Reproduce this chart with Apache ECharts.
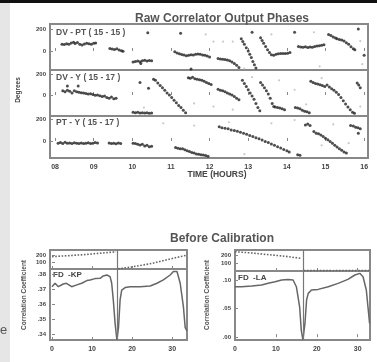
<!DOCTYPE html>
<html>
<head>
<meta charset="utf-8">
<script src="https://cdn.jsdelivr.net/npm/echarts@6/dist/echarts.min.js"></script>
<style>
  html, body { margin: 0; padding: 0; background: #fff; }
  #main { width: 377px; height: 362px; }
</style>
</head>
<body>
<div id="main"></div>
<script>
    // hours on the top plots
    var hourTicks = [8, 9, 10, 11, 12, 13, 14, 15, 16];
    var degTicks = [0, 200];

    // DV - PT (15-15): [time, degrees]
    var phaseDvPt = [
        [8.18,62],[8.24,58],[8.3,66],[8.36,60],[8.42,72],[8.48,80],[8.52,68],[8.58,78],[8.64,62],[8.7,55],
        [8.76,64],[8.82,70],[8.88,66],[8.94,62],[9.0,70],[9.05,72],
        [9.42,22],[9.48,18],[9.54,14],[9.6,20],[9.66,8],[9.72,2],[9.76,-2],
        [10.02,-100],[10.08,-95],[10.14,-92],[10.2,-98],[10.22,-115],[10.26,-88],[10.32,-85],[10.38,-92],[10.44,-86],[10.5,-90],
        [10.4,165],
        [11.1,-8],[11.16,-18],[11.22,-26],[11.28,-32],[11.34,-36],[11.4,-44],[11.46,-40],[11.52,-34],[11.58,-36],[11.64,-30],
        [11.7,-28],[11.76,-30],[11.82,-36],[11.88,-40],[11.94,-46],[12.0,-55],
        [12.22,-68],[12.28,-72],[12.34,-76],[12.4,-78],[12.46,-82],[12.52,-90],[12.58,-100],[12.64,-115],[12.7,-130],[12.76,-150],
        [12.82,110],[12.86,85],[12.9,60],[12.95,30],[13.0,0],[13.04,-30],[13.08,-60],[13.12,-95],[13.16,-125],[13.2,-155],
        [13.32,120],[13.36,95],[13.4,70],[13.45,40],[13.5,10],[13.55,-15],[13.6,-35],[13.66,-40],
        [13.72,-30],[13.78,-26],[13.84,-24],[13.9,-22],[13.96,-22],[14.02,-20],[14.08,-15],
        [14.3,40],[14.36,36],[14.42,34],[14.48,38],[14.54,32],[14.6,36],[14.66,34],[14.72,40],[14.78,44],[14.84,48],[14.9,52],[14.96,56],
        [15.08,150],[15.14,140],[15.2,128],[15.26,118],[15.3,112],[15.36,105],[15.42,100],[15.48,90],[15.54,75],[15.6,60],
        [15.66,38],[15.72,20],[15.76,10],
        [11.25,160],[11.52,-165],[13.1,170],[14.2,170],[15.85,200],[16.0,-40]
    ];
    var noiseDvPt = [[12.1,85],[12.35,85],[12.6,85],[13.6,150],[14.7,170],[14.85,-140],[15.9,90],[15.95,-120],[11.9,150],[12.9,-160]];

    // DV - Y (15-17)
    var phaseDvY = [
        [8.2,40],[8.26,30],[8.32,45],[8.38,35],[8.44,20],[8.5,40],[8.56,30],[8.62,25],[8.68,22],[8.74,18],[8.8,15],[8.86,10],
        [8.92,12],[8.98,5],[9.04,-2],[9.1,0],[9.16,-8],[9.22,-15],[9.28,-10],[9.34,-25],[9.4,-30],[9.46,-20],[9.52,-35],[9.58,-30],
        [8.32,85],[8.6,85],
        [10.02,-165],[10.08,-170],[10.14,-165],[10.2,-172],[10.26,-168],[10.32,-172],[10.38,-170],[10.44,-175],[10.5,-172],
        [10.2,120],[10.42,65],[10.55,150],
        [10.6,140],[10.66,115],[10.72,90],[10.78,70],[10.84,45],[10.9,20],[10.96,0],[11.02,-25],[11.08,-50],[11.14,-75],
        [11.2,-100],[11.26,-120],[11.32,-145],[11.38,-170],
        [11.45,165],[11.5,160],[11.56,168],[11.62,155],[11.68,150],[11.74,145],[11.8,140],[11.86,130],[11.92,120],[11.98,110],[12.04,100],
        [12.22,55],[12.28,45],[12.34,40],[12.4,30],[12.46,20],[12.52,10],[12.58,0],[12.64,-15],[12.7,-30],[12.76,-45],
        [12.85,140],[12.9,110],[12.95,80],[13.0,50],[13.05,20],[13.1,-10],[13.15,-40],[13.2,-80],[13.25,-120],[13.3,-150],
        [13.32,120],[13.37,95],[13.42,70],[13.47,40],[13.52,10],[13.57,-30],[13.62,-80],[13.66,-110],
        [13.7,-115],[13.76,-120],[13.82,-125],[13.88,-130],[13.94,-140],
        [14.22,-120],[14.28,-125],[14.34,-130],[14.4,-145],[14.46,-155],[14.52,-160],[14.58,-170],
        [14.62,130],[14.68,120],[14.74,110],[14.8,105],[14.86,98],[14.92,90],[14.98,80],[15.04,95],[15.1,75],[15.16,60],
        [15.22,45],[15.28,25],[15.34,5],[15.4,-25],[15.46,-55],[15.52,-85],[15.58,-115],[15.64,-140],[15.7,-165],[15.75,-175],
        [15.82,115],[15.86,95],[15.9,70]
    ];
    var noiseDvY = [[12.6,-140],[13.1,170],[13.8,140],[14.2,50],[14.5,-90],[15.9,-110],[12.1,-110],[11.6,-80],[14.9,160],[10.3,-120]];

    // PT - Y (15-17)
    var phasePtY = [
        [8.08,-20],[8.14,-15],[8.2,-22],[8.26,-12],[8.32,-20],[8.38,-18],[8.44,-22],[8.5,-16],[8.56,-20],[8.62,-24],[8.68,-18],
        [8.74,-22],[8.8,-20],[8.86,-16],[8.92,-22],[8.98,-20],[9.04,-14],[9.1,-18],
        [9.4,-18],[9.46,-24],[9.52,-20],[9.58,-26],[9.64,-18],[9.7,-24],
        [10.02,-20],[10.08,-22],[10.14,-30],[10.2,-36],[10.26,-30],[10.32,-45],[10.38,-40],[10.44,-52],[10.5,-48],
        [11.12,-60],[11.18,-66],[11.24,-72],[11.3,-70],[11.36,-80],[11.42,-90],[11.48,-96],[11.54,-104],[11.6,-110],
        [11.66,-118],[11.72,-120],[11.78,-125],[11.84,-128],[11.9,-132],[11.96,-140],
        [12.25,130],[12.32,120],[12.4,115],[12.48,110],[12.56,100],[12.64,95],[12.72,88],[12.8,80],[12.88,70],[12.96,62],
        [13.04,50],[13.12,40],[13.2,30],[13.28,20],[13.36,8],[13.44,-5],[13.52,-15],[13.6,-28],[13.68,-40],[13.76,-52],
        [13.84,-65],[13.92,-78],[14.0,-90],[14.06,-100],
        [14.28,-125],[14.34,-130],
        [14.48,145],[14.54,155],[14.6,140],
        [14.7,85],[14.76,70],[14.82,65],[14.88,55],[14.94,40],[15.0,25],[15.06,10],[15.12,-5],[15.18,-20],[15.24,-40],
        [15.3,-55],[15.36,-70],[15.42,-85],[15.48,-100],[15.54,-110],
        [15.65,140],[15.72,135],[15.78,125],[15.84,120],[15.9,110],[15.85,70]
    ];
    var noisePtY = [[12.5,170],[11.6,140],[14.2,190],[13.6,160],[15.2,150],[12.9,-120],[10.8,160],[14.9,-40],[15.6,-20]];

    // Before Calibration, FD - KP
    var kpPhaseA = [[0,176],[4,190],[8,205],[12,225],[16,245]];
    var kpPhaseB = [[16.5,2],[20,30],[25,80],[30,150],[33.5,195]];
    var kpCorr = [
        [0,.3715],[0.75,.3738],[1.6,.3715],[2.8,.3733],[3.6,.3738],[4.9,.3715],[6.2,.3727],[7.4,.3738],[8.7,.3756],
        [9.5,.376],[10.75,.3769],[12,.3771],[12.8,.3787],[13.7,.3793],[14.5,.3782],[14.9,.3738],[15.3,.3627],
        [15.75,.3471],[16.2,.336],[16.6,.3442],[17,.3627],[17.4,.3693],[18.25,.3709],[19.5,.3715],[22,.3715],
        [24.5,.372],[26.2,.3738],[27.8,.376],[29.5,.3793],[30.3,.3816],[31.2,.3816],[32,.3738],[32.8,.3582],
        [33.25,.3442],[33.7,.342]
    ];
    var kpTicks = [.34, .35, .36, .37, .38];

    // Before Calibration, FD - LA
    var laPhaseA = [[0,241],[4,225],[8,205],[12,185],[16,159]];
    var laPhaseB = [[16.8,5],[20,5],[24,4],[28,5],[33,5]];
    var laCorr = [
        [0,.0883],[1.6,.0883],[4.1,.0895],[6.5,.0912],[8.1,.0942],[9.8,.097],[11.4,.10],[13,.101],[14.2,.10],
        [15,.0883],[15.8,.0532],[16.2,.0123],[16.6,-.005],[17.1,.024],[17.5,.065],[17.9,.0766],[18.7,.0825],
        [20.3,.0836],[22.8,.0883],[25.2,.0942],[27.6,.1012],[29.3,.1088],[30.5,.1117],[31.3,.1058],[32.1,.0825],
        [32.5,.0532],[32.9,.024]
    ];
    var laTicks = [0, .05, .10];
    var sampleTicks = [0, 10, 20, 30];
    var phaseTicks = [100, 200];

    var chart = echarts.init(document.getElementById('main'));
    var frame = '#888';
    var font = 'Liberation Sans';

    function grid(l, t, w, h) {
        return { left: l, top: t, width: w, height: h, show: true, borderColor: frame, borderWidth: 2, containLabel: false };
    }
    function xAx(i, min, max, ticks, show, fmt) {
        return {
            type: 'value', gridIndex: i, min: min, max: max,
            axisLine: { show: false }, splitLine: { show: false },
            axisTick: { inside: true, length: 3, lineStyle: { color: frame }, customValues: ticks },
            axisLabel: { show: show, customValues: ticks, fontSize: 7, color: '#444', fontFamily: font, fontWeight: 'bold', margin: 6, formatter: fmt }
        };
    }
    function yAx(i, min, max, ticks, fmt) {
        return {
            type: 'value', gridIndex: i, min: min, max: max,
            axisLine: { show: false }, splitLine: { show: false },
            axisTick: { inside: true, length: 3, lineStyle: { color: frame }, customValues: ticks },
            axisLabel: { customValues: ticks, fontSize: 6, color: '#444', fontFamily: font, fontWeight: 'bold', margin: 4, formatter: fmt }
        };
    }
    var hourFmt = function (v) { return (v < 10 ? '0' : '') + v; };
    var decFmt = function (v) { return v.toFixed(2).replace(/^0/, ''); };

    function dots(i, data, size, color) {
        return { type: 'scatter', xAxisIndex: i, yAxisIndex: i, data: data, symbolSize: size,
                 itemStyle: { color: color }, silent: true };
    }
    function curve(i, data, dotted, mark) {
        var s = { type: 'line', xAxisIndex: i, yAxisIndex: i, data: data, showSymbol: false,
                  lineStyle: { color: '#666', width: dotted ? 1.6 : 1.5, type: dotted ? 'dotted' : 'solid' }, silent: true };
        if (mark != null) {
            s.markLine = { silent: true, symbol: 'none', label: { show: false },
                           lineStyle: { color: '#777', width: 1.2, type: 'solid' }, data: [{ xAxis: mark }] };
        }
        return s;
    }

    var option = {
        animation: false,
        backgroundColor: '#fff',
        title: [
            { text: 'Raw Correlator Output Phases', left: 217, top: 8, textAlign: 'center',
              textStyle: { fontSize: 12, fontWeight: 'bold', color: '#555', fontFamily: font } },
            { text: 'Before Calibration', left: 217, top: 228, textAlign: 'center',
              textStyle: { fontSize: 12, fontWeight: 'bold', color: '#555', fontFamily: font } }
        ],
        grid: [
            grid(50, 24, 318, 46),
            grid(50, 70, 318, 46),
            grid(50, 116, 318, 42),
            grid(50, 250, 137, 19),
            grid(50, 269, 137, 71),
            grid(235, 250, 135, 21),
            grid(235, 271, 135, 69)
        ],
        xAxis: [
            xAx(0, 7.87, 16.1, hourTicks, false, hourFmt),
            xAx(1, 7.87, 16.1, hourTicks, false, hourFmt),
            xAx(2, 7.87, 16.1, hourTicks, true, hourFmt),
            xAx(3, -0.5, 33.7, sampleTicks, false),
            xAx(4, -0.5, 33.7, sampleTicks, true),
            xAx(5, 0, 33, sampleTicks, false),
            xAx(6, 0, 33, sampleTicks, true)
        ],
        yAxis: [
            yAx(0, -173, 245, degTicks),
            yAx(1, -200, 238, degTicks),
            yAx(2, -155, 227, degTicks),
            yAx(3, 0, 271, phaseTicks),
            yAx(4, .336, .3833, kpTicks, decFmt),
            yAx(5, 0, 262, phaseTicks),
            yAx(6, -.005, .1158, laTicks, decFmt)
        ],
        series: [
            dots(0, noiseDvPt, 2.2, '#bbb'),
            dots(0, phaseDvPt, 3, '#222'),
            dots(1, noiseDvY, 2.2, '#bbb'),
            dots(1, phaseDvY, 3, '#222'),
            dots(2, noisePtY, 2.2, '#bbb'),
            dots(2, phasePtY, 3, '#222'),
            curve(3, kpPhaseA, true, 16.2),
            curve(3, kpPhaseB, true),
            curve(4, kpCorr, false, 16.2),
            curve(5, laPhaseA, true, 16.6),
            curve(5, laPhaseB, true),
            curve(6, laCorr, false, 16.6)
        ],
        graphic: [
            { type: 'rect', shape: { x: 0, y: 0, width: 377, height: 3 }, style: { fill: '#111' } },
            { type: 'rect', shape: { x: 0, y: 3, width: 10, height: 359 }, style: { fill: '#e6e6e6' } },
            { type: 'text', x: 0, y: 324, style: { text: 'e', fontSize: 13, fill: '#555', fontFamily: font } },
            { type: 'text', x: 56, y: 28, style: { text: 'DV - PT ( 15 - 15 )', fontSize: 8.5, fill: '#555', fontFamily: font, fontWeight: 'bold' } },
            { type: 'text', x: 56, y: 73, style: { text: 'DV - Y ( 15 - 17 )', fontSize: 8.5, fill: '#555', fontFamily: font, fontWeight: 'bold' } },
            { type: 'text', x: 56, y: 118, style: { text: 'PT - Y ( 15 - 17 )', fontSize: 8.5, fill: '#555', fontFamily: font, fontWeight: 'bold' } },
            { type: 'text', x: 217, y: 170, style: { text: 'TIME (HOURS)', fontSize: 8.5, fill: '#444', fontFamily: font, fontWeight: 'bold', align: 'center' } },
            { type: 'text', x: 18, y: 90, rotation: Math.PI / 2, style: { text: 'Degrees', fontSize: 6.5, fill: '#444', fontFamily: font, fontWeight: 'bold', align: 'center', verticalAlign: 'middle' } },
            { type: 'text', x: 24, y: 295, rotation: Math.PI / 2, style: { text: 'Correlation Coefficient', fontSize: 6.5, fill: '#555', fontFamily: font, fontWeight: 'bold', align: 'center', verticalAlign: 'middle' } },
            { type: 'text', x: 207, y: 295, rotation: Math.PI / 2, style: { text: 'Correlation Coefficient', fontSize: 6.5, fill: '#555', fontFamily: font, fontWeight: 'bold', align: 'center', verticalAlign: 'middle' } },
            { type: 'text', x: 53, y: 271, style: { text: 'FD  -KP', fontSize: 8, fill: '#444', fontFamily: font, fontWeight: 'bold' } },
            { type: 'text', x: 238, y: 274, style: { text: 'FD  -LA', fontSize: 8, fill: '#444', fontFamily: font, fontWeight: 'bold' } }
        ]
    };
    chart.setOption(option);
</script>
</body>
</html>
